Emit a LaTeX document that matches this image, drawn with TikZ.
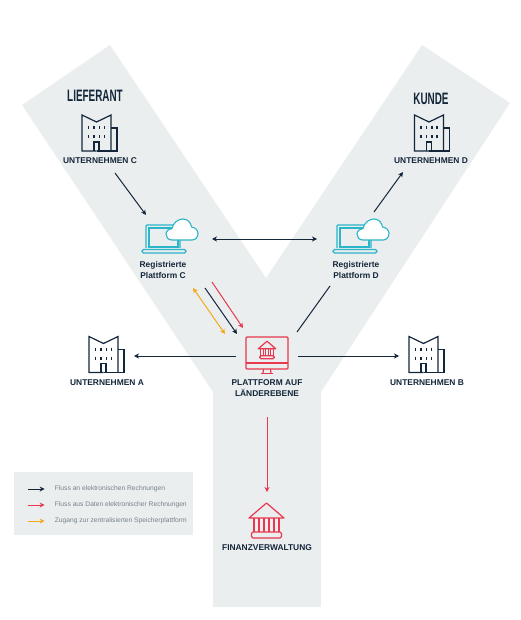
\documentclass[tikz,border=0pt]{standalone}
\usepackage{fontspec}
\setmainfont{Liberation Sans}
\newfontfamily\headfont[FakeStretch=0.6]{Liberation Sans}
\usetikzlibrary{arrows.meta}

\definecolor{navy}{HTML}{14263A}
\definecolor{yshape}{HTML}{EAEEEF}
\definecolor{signal}{HTML}{E8384F}
\definecolor{amber}{HTML}{F5A81C}
\definecolor{cyanline}{HTML}{2BB5C8}
\definecolor{legendtext}{HTML}{77828B}

\tikzset{
    flow/.style={line width=1pt, -{Stealth[length=5pt,width=5pt,inset=1.5pt]}},
    flowboth/.style={line width=1pt, {Stealth[length=5pt,width=5pt,inset=1.5pt]}-{Stealth[length=5pt,width=5pt,inset=1.5pt]}},
    iconbox/.style={inner sep=0, outer sep=0, minimum size=30pt},
    headtext/.style={inner sep=0, text=navy, font=\headfont\bfseries\fontsize{16.5}{18}\selectfont},
    caption/.style={inner sep=0, align=center, text=navy, font=\bfseries\fontsize{8.4}{11}\selectfont},
    legendentry/.style={inner sep=0, anchor=west, text=legendtext, font=\fontsize{6.7}{8}\selectfont},
    building/.pic={
        \begin{scope}[navy, line width=1.2pt, line join=miter]
            \draw (-3,18) -- (-17.5,18) -- (-17.5,-18) -- (-3,-11) -- (11.5,-18) -- (11.5,18);
            \draw (11.5,-5) -- (17.5,-5) -- (17.5,18) -- (-3,18);
            \draw (-5.5,18) -- (-5.5,9) -- (-0.5,9) -- (-0.5,18);
            \foreach \x in {-11,-5.5,0,5} {
                \draw (\x,-7) -- (\x,-4);
                \draw (\x,2) -- (\x,5);
            }
        \end{scope}
    },
    laptop/.pic={
        \begin{scope}[cyanline, line width=1.1pt]
            \draw[rounded corners=1pt] (-24,12) -- (-24,-11) -- (10,-11) -- (10,12);
            \draw (-21,11) -- (-21,-8) -- (8,-8) -- (8,11) -- cycle;
            \draw[rounded corners=1.5pt] (-28,13.5) rectangle (16,17);
            \draw[fill=white] (2,4) .. controls (-2,4) and (-4,1) .. (-4,-2)
                .. controls (-4,-5) and (-1,-7.5) .. (2,-7.5)
                .. controls (3,-13) and (8,-17) .. (13,-17)
                .. controls (18,-17) and (21,-13) .. (21.5,-9)
                .. controls (25,-8.5) and (28,-6) .. (28,-2.5)
                .. controls (28,1.5) and (25,4) .. (22,4) -- cycle;
        \end{scope}
    },
    bank/.pic={
        \begin{scope}[signal, line width=1.2pt, line join=round]
            \draw (-17.5,-2.5) -- (0,-17.5) -- (17.5,-2.5) -- cycle;
            \foreach \x in {-12.5,-7.5,-2.5,2.5,7.5,12.5} {
                \draw (\x,-2.5) -- (\x,11.5);
            }
            \draw[rounded corners=1.5pt] (-15,11.5) rectangle (15,17.5);
        \end{scope}
    },
    monitor/.pic={
        \begin{scope}[signal, line width=1.2pt]
            \draw[rounded corners=1pt] (-21,-18) rectangle (21,14);
            \draw (-21,8) -- (21,8);
            \draw (-3.5,14) -- (-4,18.5) (3.5,14) -- (4,18.5);
            \draw (-6,18.5) -- (6,18.5);
        \end{scope}
    }
}

\begin{document}
\begin{tikzpicture}[x=1pt, y=-1pt]
    \useasboundingbox (0,0) rectangle (520,620);

    % Draw background
    \fill[yshape] (110,45) -- (266,278) -- (422,45) -- (510,103) -- (321,392) -- (321,607)
        -- (213,607) -- (213,392) -- (22,105) -- cycle;
    \fill[yshape] (14,472) rectangle (193,535);

    % Draw nodes
    \node[iconbox] (buildC) at (99.5,133) {};
    \node[iconbox] (buildD) at (432,133) {};
    \node[iconbox] (buildA) at (106.5,354.5) {};
    \node[iconbox] (buildB) at (426.5,354.5) {};
    \node[iconbox] (platC) at (170,236) {};
    \node[iconbox] (platD) at (361,236) {};
    \node[iconbox] (platL) at (267,355) {};
    \node[iconbox] (amt) at (266.5,520.5) {};

    \pic at (buildC) {building};
    \pic at (buildD) {building};
    \pic at (buildA) {building};
    \pic at (buildB) {building};
    \pic at (platC) {laptop};
    \pic at (platD) {laptop};
    \pic at (platL) {monitor};
    \pic[scale=0.5] at (267,350) {bank};
    \pic at (amt) {bank};

    % Labels
    \node[headtext] (lief) at (95,96) {LIEFERANT};
    \node[headtext] (kunde) at (431,99) {KUNDE};
    \node[caption] (capC) at (100,161) {UNTERNEHMEN C};
    \node[caption] (capD) at (431,161) {UNTERNEHMEN D};
    \node[caption] (capA) at (107,383) {UNTERNEHMEN A};
    \node[caption] (capB) at (427,383) {UNTERNEHMEN B};
    \node[caption] (capPC) at (163,269.5) {Registrierte\\Plattform C};
    \node[caption] (capPD) at (356,269.5) {Registrierte\\Plattform D};
    \node[caption] (capL) at (267,388.5) {PLATTFORM AUF\\LÄNDEREBENE};
    \node[caption] (capF) at (267,548) {FINANZVERWALTUNG};

    % Draw connections
    \draw[flow, navy] ([shift={(15,12)}]capC.center) -- ([shift={(-24,-21)}]platC.center);
    \draw[flow, navy] ([shift={(13,-24)}]platD.center) -- ([shift={(-28,11)}]capD.center);
    \draw[flowboth, navy] ([shift={(42,3)}]platC.center) -- ([shift={(-44,3)}]platD.center);
    \draw[line width=1pt, navy] ([shift={(-31,50)}]platD.center) -- ([shift={(30,-23)}]platL.center);
    \draw[flowboth, amber] ([shift={(30,18.5)}]capPC.center) -- ([shift={(-42,-21)}]platL.center);
    \draw[flow, navy] ([shift={(42,18.5)}]capPC.center) -- ([shift={(-30,-21)}]platL.center);
    \draw[flow, signal] ([shift={(49,12.5)}]capPC.center) -- ([shift={(-24,-27)}]platL.center);
    \draw[flow, navy] ([shift={(-31,1)}]platL.center) -- ([shift={(27.5,1.5)}]buildA.center);
    \draw[flow, navy] ([shift={(31,1)}]platL.center) -- ([shift={(-27.5,1.5)}]buildB.center);
    \draw[flow, signal] ([shift={(0,28.5)}]capL.center) -- ([shift={(0.5,-28.5)}]amt.center);

    % Legend
    \node[legendentry] (legA) at (54.7,489) {Fluss an elektronischen Rechnungen};
    \node[legendentry] (legB) at (54.7,505) {Fluss aus Daten elektronischer Rechnungen};
    \node[legendentry] (legC) at (54.7,521) {Zugang zur zentralisierten Speicherplattform};
    \draw[flow, navy] ([xshift=-27pt]legA.west) -- ([xshift=-10pt]legA.west);
    \draw[flow, signal] ([xshift=-27pt]legB.west) -- ([xshift=-10pt]legB.west);
    \draw[flow, amber] ([xshift=-27pt]legC.west) -- ([xshift=-10pt]legC.west);
\end{tikzpicture}
\end{document}
